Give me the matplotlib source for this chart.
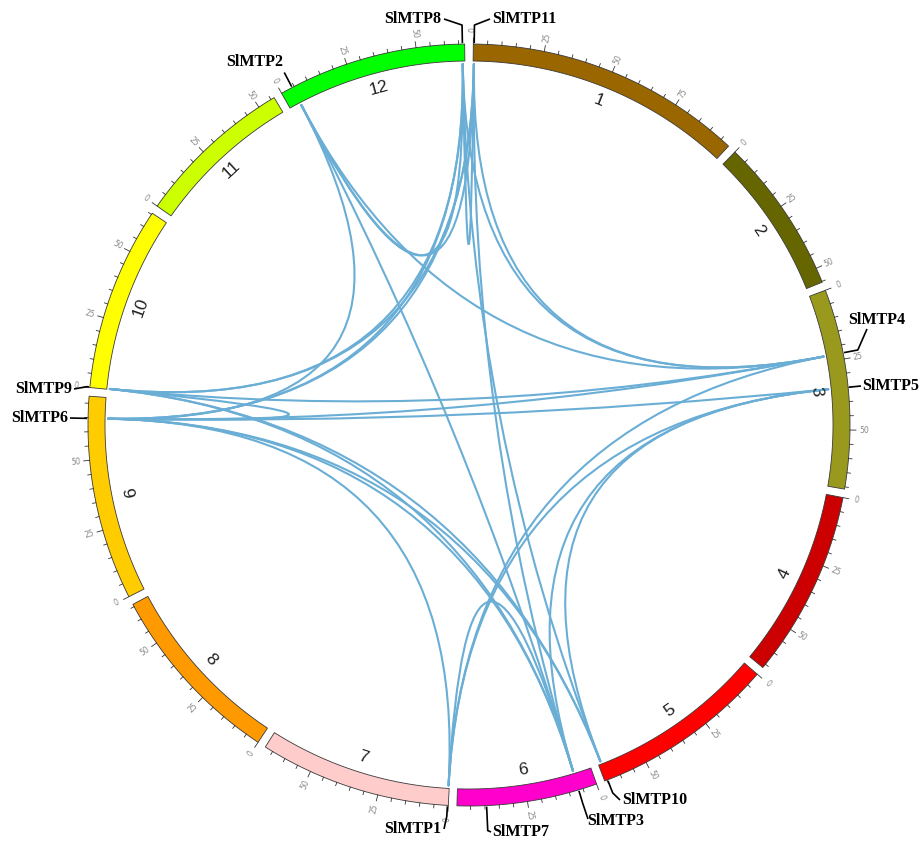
import numpy as np
import matplotlib
matplotlib.use("Agg")
import matplotlib.pyplot as plt
from matplotlib.path import Path
from matplotlib.patches import PathPatch, Polygon

# ---------------- data ----------------
chrom_names = ['1', '2', '3', '4', '5', '6', '7', '8', '9', '10', '11', '12']
chrom_lengths = [98.5, 55.3, 70.8, 66.5, 65.9, 49.8, 68.0, 65.9, 72.5, 65.5, 56.3, 67.1]  # Mb
chrom_colors = ['#996600', '#666600', '#99991e', '#cc0000', '#ff0000', '#ff00cc',
                '#ffcccc', '#ff9900', '#ffcc00', '#ffff00', '#ccff00', '#00ff00']

gene_names = ['SlMTP1', 'SlMTP2', 'SlMTP3', 'SlMTP4', 'SlMTP5', 'SlMTP6',
              'SlMTP7', 'SlMTP8', 'SlMTP9', 'SlMTP10', 'SlMTP11']
gene_chr = ['7', '12', '6', '3', '3', '9', '6', '12', '10', '5', '1']
gene_pos = [0.3, 4.2, 6.6, 22.8, 35.0, 64.7, 39.4, 66.3, 0.2, 64.8, 0.3]  # Mb

links = [
    ('SlMTP8', 'SlMTP11'),
    ('SlMTP8', 'SlMTP9'), ('SlMTP8', 'SlMTP6'), ('SlMTP11', 'SlMTP9'), ('SlMTP11', 'SlMTP6'),
    ('SlMTP8', 'SlMTP4'), ('SlMTP11', 'SlMTP4'),
    ('SlMTP11', 'SlMTP3'), ('SlMTP8', 'SlMTP10'),
    ('SlMTP2', 'SlMTP8'), ('SlMTP2', 'SlMTP11'),
    ('SlMTP2', 'SlMTP4'), ('SlMTP2', 'SlMTP3'), ('SlMTP2', 'SlMTP6'),
    ('SlMTP9', 'SlMTP4'), ('SlMTP6', 'SlMTP4'), ('SlMTP6', 'SlMTP5'),
    ('SlMTP9', 'SlMTP6'),
    ('SlMTP9', 'SlMTP3'), ('SlMTP6', 'SlMTP3'), ('SlMTP9', 'SlMTP10'), ('SlMTP6', 'SlMTP10'),
    ('SlMTP6', 'SlMTP1'),
    ('SlMTP1', 'SlMTP3'),
    ('SlMTP1', 'SlMTP5'), ('SlMTP4', 'SlMTP1'),
    ('SlMTP5', 'SlMTP3'), ('SlMTP5', 'SlMTP10'),
]

# ---------------- layout ----------------
W, H = 920, 841
CX, CY = 469, 425
R_IN, R_OUT = 364, 381
R_LINK = 361
GAP = 1.3
START = GAP / 2
deg_per_mb = (360 - GAP * len(chrom_lengths)) / sum(chrom_lengths)

chrom_start = {}
a = START
for n, L in zip(chrom_names, chrom_lengths):
    chrom_start[n] = a
    a += L * deg_per_mb + GAP


def ang(ch, mb):
    return chrom_start[ch] + mb * deg_per_mb


def pol(a_deg, r):
    t = np.deg2rad(a_deg)
    return CX + r * np.sin(t), CY - r * np.cos(t)


fig = plt.figure(figsize=(W / 100, H / 100), dpi=100)
ax = fig.add_axes([0, 0, 1, 1])
ax.set_xlim(0, W)
ax.set_ylim(H, 0)
ax.axis('off')

# chromosome blocks, ticks, labels
for n, L, col in zip(chrom_names, chrom_lengths, chrom_colors):
    a0 = ang(n, 0)
    a1 = ang(n, L)
    angs = np.linspace(a0, a1, 120)
    outer = [pol(x, R_OUT) for x in angs]
    inner = [pol(x, R_IN) for x in angs[::-1]]
    ax.add_patch(Polygon(outer + inner, closed=True, facecolor=col,
                         edgecolor='#3a3a3a', lw=0.6, zorder=3))
    # ticks
    for mb in np.arange(0, L + 0.01, 5):
        am = ang(n, mb)
        major = (mb % 25 == 0)
        tl = 6 if major else 3.5
        p0 = pol(am, R_OUT)
        p1 = pol(am, R_OUT + tl)
        ax.plot([p0[0], p1[0]], [p0[1], p1[1]], color='#333333', lw=0.6, zorder=3)
        if major:
            pt = pol(am, R_OUT + 14)
            rot = 90 - am
            if am % 360 > 180:
                rot = 270 - am
            ax.text(pt[0], pt[1], '%d' % mb, fontsize=5.5, color='#888888',
                    rotation=rot, rotation_mode='anchor', ha='center', va='center',
                    family='DejaVu Sans', zorder=4)
    # chromosome name
    am = (a0 + a1) / 2
    pt = pol(am, 349)
    rot = -am
    if 90 < am < 270:
        rot = 180 - am
    ax.text(pt[0], pt[1], n, fontsize=12.5, color='#222222', rotation=rot,
            rotation_mode='anchor', ha='center', va='center',
            family='Liberation Sans', zorder=4)

gene_ang = {g: ang(c, p) for g, c, p in zip(gene_names, gene_chr, gene_pos)}

# links (quadratic bezier through the centre)
for g1, g2 in links:
    p0 = pol(gene_ang[g1], R_LINK)
    p2 = pol(gene_ang[g2], R_LINK)
    path = Path([p0, (CX, CY), p2], [Path.MOVETO, Path.CURVE3, Path.CURVE3])
    ax.add_patch(PathPatch(path, facecolor='none', edgecolor='#6aaed6',
                           lw=1.5, zorder=2, capstyle='round'))

# gene labels with connectors: (text x, text y, ha, elbow radius, connector end)
label_layout = {
    'SlMTP8': (441, 19, 'right', 400, (444, 19)),
    'SlMTP11': (492, 19, 'left', 400, (490, 19)),
    'SlMTP2': (255, 62, 'center', 398, None),
    'SlMTP4': (848, 320, 'left', 396, (867, 329)),
    'SlMTP5': (862, 386, 'left', 384, (861, 386)),
    'SlMTP9': (72, 389, 'right', 384, (74, 389)),
    'SlMTP6': (68, 418, 'right', 384, (70, 418)),
    'SlMTP1': (441, 829, 'right', 392, (444, 829)),
    'SlMTP7': (492, 832, 'left', 406, (491, 832)),
    'SlMTP3': (587, 821, 'left', 395, (588, 819)),
    'SlMTP10': (622, 800, 'left', 395, (620, 800)),
}
for g in gene_names:
    tx, ty, ha, relb, endp = label_layout[g]
    a_g = gene_ang[g]
    p0 = pol(a_g, R_OUT + 1)
    p1 = pol(a_g, relb)
    xs = [p0[0], p1[0]]
    ys = [p0[1], p1[1]]
    if endp is not None:
        xs.append(endp[0])
        ys.append(endp[1])
    ax.plot(xs, ys, color='black', lw=1.2, zorder=5, solid_capstyle='butt')
    ax.text(tx, ty, g, fontsize=11.5, fontweight='bold', family='Liberation Serif',
            ha=ha, va='center', color='black', zorder=6)

fig.savefig('out.png', dpi=100, facecolor='white')
